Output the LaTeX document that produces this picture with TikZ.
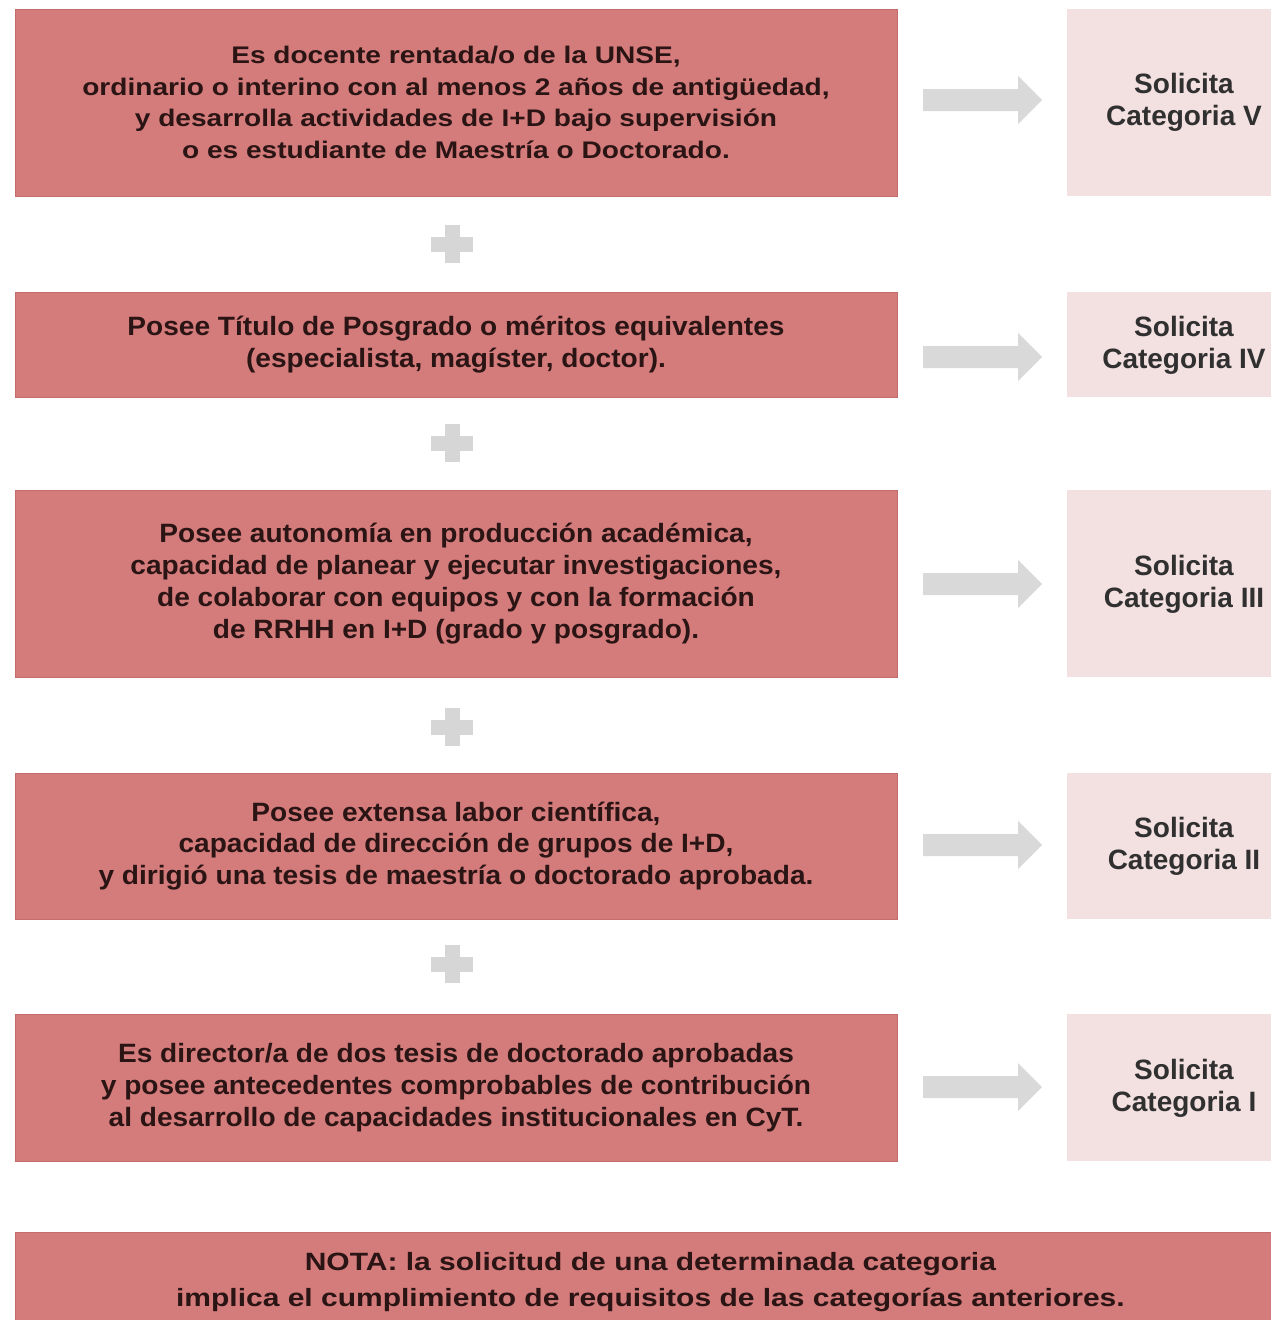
\documentclass[tikz,border=0pt]{standalone}
\usepackage{fontspec}
\setmainfont{Liberation Sans}
\newfontfamily\widefont[FakeStretch=1.17]{Liberation Sans}
\newfontfamily\narrowfont[FakeStretch=1.06]{Liberation Sans}
\newfontfamily\notafont[FakeStretch=1.2]{Liberation Sans}
\definecolor{boxred}{HTML}{D47B7B}
\definecolor{boxedge}{HTML}{C46C6C}
\definecolor{boxpink}{HTML}{F3E0E1}
\definecolor{arrowgray}{HTML}{D9D9D9}
\definecolor{plusgray}{HTML}{D6D6D6}
\definecolor{txtdark}{HTML}{2A1414}
\definecolor{txtgray}{HTML}{303030}
\begin{document}
\begin{tikzpicture}[x=1pt,y=-1pt,
  redbox/.style={fill=boxred, draw=boxedge, line width=0.8pt, minimum width=882pt,
    inner sep=0pt, align=center, text=txtdark},
  widetext/.style={font=\widefont\bfseries\fontsize{24}{31.5}\selectfont},
  narrowtext/.style={font=\narrowfont\bfseries\fontsize{26.5}{31.8}\selectfont},
  notatext/.style={font=\notafont\bfseries\fontsize{25}{36}\selectfont},
  catbox/.style={fill=boxpink, minimum width=240pt, inner sep=0pt, anchor=west},
  cattext/.style={align=center, text=txtgray, font=\bfseries\fontsize{28}{32}\selectfont},
  blockarrow/.pic={\fill[arrowgray] (0,-11) -- (95,-11) -- (95,-24) -- (119,0)
      -- (95,24) -- (95,11) -- (0,11) -- cycle;},
  plussign/.pic={\fill[plusgray] (-21,-7.5) rectangle (21,7.5);
      \fill[plusgray] (-7.5,-19) rectangle (7.5,19);}
]
\useasboundingbox (0,0) rectangle (1271,1320);
\clip (0,0) rectangle (1271,1320);

% left requirement boxes
\node[redbox, widetext, minimum height=187pt] (b1) at (456,102.5)
  {Es docente rentada/o de la UNSE,\\
   ordinario o interino con al menos 2 años de antigüedad,\\
   y desarrolla actividades de I+D bajo supervisión\\
   o es estudiante de Maestría o Doctorado.};
\node[redbox, narrowtext, minimum height=105pt] (b2) at (456,344.5)
  {Posee Título de Posgrado o méritos equivalentes\\
   (especialista, magíster, doctor).};
\node[redbox, narrowtext, minimum height=187pt] (b3) at (456,583.5)
  {Posee autonomía en producción académica,\\
   capacidad de planear y ejecutar investigaciones,\\
   de colaborar con equipos y con la formación\\
   de RRHH en I+D (grado y posgrado).};
\node[redbox, narrowtext, minimum height=146pt] (b4) at (456,846)
  {Posee extensa labor científica,\\
   capacidad de dirección de grupos de I+D,\\
   y dirigió una tesis de maestría o doctorado aprobada.};
\node[redbox, narrowtext, minimum height=147pt] (b5) at (456,1087.5)
  {Es director/a de dos tesis de doctorado aprobadas\\
   y posee antecedentes comprobables de contribución\\
   al desarrollo de capacidades institucionales en CyT.};

% category boxes
\node[catbox, minimum height=187pt] (c1) at (1067,102.5) {};
\node[catbox, minimum height=105pt] (c2) at (1067,344.5) {};
\node[catbox, minimum height=187pt] (c3) at (1067,583.5) {};
\node[catbox, minimum height=146pt] (c4) at (1067,846) {};
\node[catbox, minimum height=147pt] (c5) at (1067,1087.5) {};
\node[cattext] (t1) at (1184,102.5) {Solicita\\Categoria V};
\node[cattext] (t2) at (1184,345.5) {Solicita\\Categoria IV};
\node[cattext] (t3) at (1184,584.5) {Solicita\\Categoria III};
\node[cattext] (t4) at (1184,846) {Solicita\\Categoria II};
\node[cattext] (t5) at (1184,1088) {Solicita\\Categoria I};

% block arrows
\pic at (923,100) {blockarrow};
\pic at (923,357) {blockarrow};
\pic at (923,584) {blockarrow};
\pic at (923,845) {blockarrow};
\pic at (923,1087) {blockarrow};

% plus signs
\pic at (452,244) {plussign};
\pic at (452,443) {plussign};
\pic at (452,727) {plussign};
\pic at (452,964) {plussign};

% note box
\node[redbox, notatext, minimum width=1270pt, minimum height=100pt, anchor=north west]
  (nota) at (15,1232)
  {NOTA: la solicitud de una determinada categoria\\
   implica el cumplimiento de requisitos de las categorías anteriores.};
\end{tikzpicture}
\end{document}
